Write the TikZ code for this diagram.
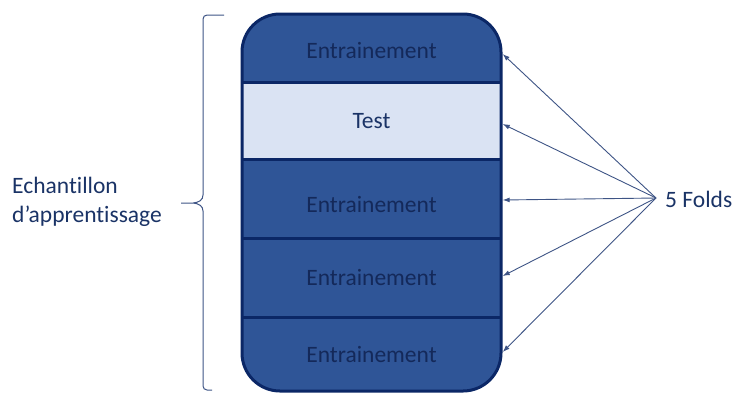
\documentclass[tikz,border=0pt]{standalone}
\usepackage{fontspec}
\setmainfont[Ligatures=NoCommon]{Carlito}
\usetikzlibrary{arrows.meta}

\definecolor{foldblue}{HTML}{2F5597}
\definecolor{testblue}{HTML}{DAE3F3}
\definecolor{edgenavy}{HTML}{0B2766}
\definecolor{inknavy}{HTML}{1A3366}
\definecolor{rowink}{HTML}{14295A}
\definecolor{arrowslate}{HTML}{3E5485}

\tikzset{
  rowbox/.style={draw=none, minimum width=259pt, inner sep=0pt, anchor=center,
    text height=16pt, text depth=0pt,
    font=\fontsize{23.5}{29}\selectfont, text=rowink},
  trainrow/.style={rowbox, fill=foldblue},
  testrow/.style={rowbox, fill=testblue, text=inknavy},
  divider/.style={draw=edgenavy, line width=3pt},
  outline/.style={draw=edgenavy, line width=3pt, rounded corners=38pt},
  foldarrow/.style={draw=arrowslate, line width=0.9pt, -{Latex[length=7pt,width=5pt]}},
  sidetext/.style={inner sep=0pt, font=\fontsize{23.5}{29}\selectfont, text=inknavy},
  bracepath/.style={draw=arrowslate, line width=1pt}
}

\begin{document}
\begin{tikzpicture}[x=1pt,y=-1pt]
  \useasboundingbox (0,0) rectangle (735,392);

  % the five folds, clipped to the rounded outline
  \begin{scope}
    \clip[rounded corners=38pt] (242,14) rectangle (501,391);
    \node[trainrow, minimum height=68pt, text height=20pt] (r1) at (371.5,48) {Entrainement};
    \node[testrow,  minimum height=77pt] (r2) at (371.5,120.5) {Test};
    \node[trainrow, minimum height=79pt, text height=27pt] (r3) at (371.5,198.5) {Entrainement};
    \node[trainrow, minimum height=79pt] (r4) at (371.5,277.5) {Entrainement};
    \node[trainrow, minimum height=74pt] (r5) at (371.5,354) {Entrainement};
  \end{scope}

  % separators between folds and the outer frame
  \draw[divider] (r1.south west) -- (r1.south east);
  \draw[divider] (r2.south west) -- (r2.south east);
  \draw[divider] (r3.south west) -- (r3.south east);
  \draw[divider] (r4.south west) -- (r4.south east);
  \draw[outline] (242,14) rectangle (501,391);

  % brace grouping the learning sample
  \draw[bracepath] (224,15) -- (207,15) to[out=180,in=90] (203,19) -- (203,195)
    .. controls (203,200) and (199,202.5) .. (193,203) -- (181,203)
    -- (193,203) .. controls (199,203.5) and (203,206) .. (203,211) -- (203,386)
    to[out=-90,in=180] (207,390) -- (212,390);
  \node[sidetext, anchor=west, align=left] (sample) at (12,202)
    {Echantillon\\d’apprentissage};

  % fold label and its arrows
  \coordinate (hub) at (656,198);
  \node[sidetext, anchor=west] (folds) at (665,199) {5 Folds};
  \draw[foldarrow] (hub) -- ([shift={(1.5,6)}]r1.east);
  \draw[foldarrow] (hub) -- ([shift={(1.5,3.5)}]r2.east);
  \draw[foldarrow] (hub) -- ([shift={(1.5,1.5)}]r3.east);
  \draw[foldarrow] (hub) -- ([shift={(1.5,-1.5)}]r4.east);
  \draw[foldarrow] (hub) -- ([shift={(1.5,-2)}]r5.east);
\end{tikzpicture}
\end{document}
